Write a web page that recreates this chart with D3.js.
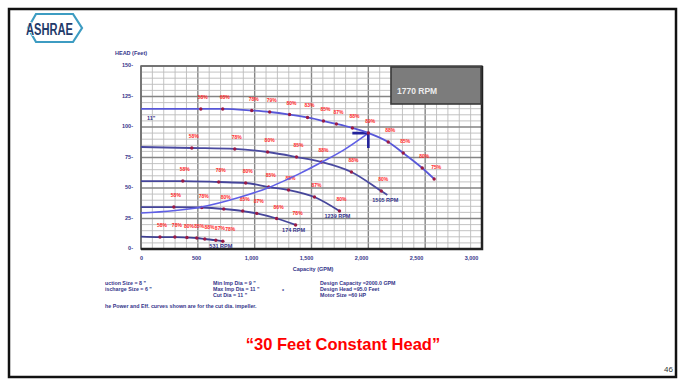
<!DOCTYPE html>
<html>
<head>
<meta charset="utf-8">
<script src="https://cdn.jsdelivr.net/npm/d3@7"></script>
<style>
  body { margin: 0; background: #fff; }
  svg { display: block; font-family: "Liberation Sans", Arial, sans-serif; }
</style>
</head>
<body>
<svg id="chart" width="683" height="382"></svg>
<script>
const xTicks = [0, 500, 1000, 1500, 2000, 2500, 3000];
const xTickLabels = ["0", "500", "1,000", "1,500", "2,000", "2,500", "3,000"];
const yTicks = [0, 25, 50, 75, 100, 125, 150];
const yTickLabels = ["0-", "25-", "50-", "75-", "100-", "125-", "150-"];

// [GPM, altura (ft), eficiencia]
const curve1770 = [
    [0, 114.8, null], [526, 114.8, "58%"], [719, 114.8, "68%"], [974, 113.5, "78%"],
    [1132, 112.3, "79%"], [1307, 110.2, "80%"], [1465, 107.8, "83%"], [1605, 104.9, "85%"],
    [1719, 102.5, "87%"], [1860, 99.2, "88%"], [2000, 95.1, "89%"], [2175, 87.7, "88%"],
    [2307, 78.7, "85%"], [2474, 66.4, "80%"], [2579, 57.4, "75%"]
];
const curve1505 = [
    [0, 83.6, null], [447, 82.8, "58%"], [825, 82.0, "78%"], [1114, 79.5, "80%"],
    [1368, 75.4, "85%"], [1588, 71.3, "88%"], [1851, 63.1, "88%"], [2114, 47.5, "80%"],
    [2167, 44.3, null]
];
const curve1239 = [
    [0, 55.7, null], [368, 55.7, "58%"], [684, 54.9, "78%"], [921, 54.1, "80%"],
    [1123, 50.8, "85%"], [1298, 48.4, "88%"], [1526, 42.6, "87%"], [1746, 31.1, "80%"]
];
const curve974 = [
    [0, 34.4, null], [289, 34.4, "58%"], [535, 34.0, "78%"], [728, 32.8, "80%"],
    [895, 31.1, "85%"], [1018, 29.2, "87%"], [1193, 25.0, "86%"], [1360, 19.7, "78%"]
];
const curve531 = [
    [0, 10.2, null], [167, 9.8, "58%"], [298, 9.8, "78%"], [404, 9.4, "80%"],
    [491, 9.0, "85%"], [561, 8.2, "88%"], [658, 7.2, "87%"], [720, 6.4, "78%"]
];
const systemCurve = [
    [0, 29.5], [518, 34.2], [868, 42.4], [1132, 50.7], [1281, 56.8],
    [1395, 61.8], [1588, 71.1], [1789, 81.5], [2000, 95]
];
const speedLabels = ["1505 RPM", "1239 RPM", "174 RPM", "531 RPM"];

const infoCol1 = ["uction Size = 8 \"", "ischarge Size = 6 \""];
const infoCol2 = ["Min Imp Dia = 9 \"", "Max Imp Dia = 11 \"", "Cut Dia = 11 \""];
const infoCol3 = ["Design Capacity =2000.0 GPM", "Design Head =95.0 Feet", "Motor Size =60 HP"];
const noteLine = "he Power and Eff. curves shown are for the cut dia. impeller.";

const navy = "#34348a";
const svg = d3.select("#chart");

// Escalas: la rejilla y las etiquetas del eje X no coinciden en la imagen
const x = d3.scaleLinear().domain([0, 3000]).range([141, 482]);
const xLabel = d3.scaleLinear().domain([0, 3000]).range([141, 471]);
const y = d3.scaleLinear().domain([0, 150]).range([249, 66]);

function drawSlide() {
    svg.append("rect")
        .attr("x", 9).attr("y", 9).attr("width", 667).attr("height", 368)
        .attr("fill", "#fff").attr("stroke", "#111").attr("stroke-width", 2.5);

    // Logo ASHRAE
    svg.append("path")
        .attr("d", "M36,14 L73,14 L82,28 L73,42 L36,42 L28,28 Z")
        .attr("fill", "none").attr("stroke", "#3d9cc2").attr("stroke-width", 2.2);
    svg.append("text")
        .attr("x", 26).attr("y", 35)
        .attr("textLength", 47).attr("lengthAdjust", "spacingAndGlyphs")
        .attr("font-size", 16).attr("font-weight", "bold")
        .attr("fill", "#1f3b6b")
        .attr("stroke", "#fff").attr("stroke-width", 1.5).attr("paint-order", "stroke")
        .text("ASHRAE");

    svg.append("text")
        .attr("x", 343).attr("y", 350)
        .attr("text-anchor", "middle")
        .attr("font-size", 16.5).attr("font-weight", "bold")
        .attr("fill", "#ff0000")
        .text("\u201C30 Feet Constant Head\u201D");

    svg.append("text")
        .attr("x", 673).attr("y", 372)
        .attr("text-anchor", "end")
        .attr("font-size", 8).attr("fill", "#333")
        .text("46");
}

function drawGrid() {
    const g = svg.append("g");
    g.append("rect")
        .attr("x", x(0)).attr("y", y(150))
        .attr("width", x(3000) - x(0)).attr("height", y(0) - y(150))
        .attr("fill", "#fff");

    g.selectAll("line.v")
        .data(d3.range(0, 3001, 100))
        .enter().append("line")
        .attr("x1", d => x(d)).attr("x2", d => x(d))
        .attr("y1", y(150)).attr("y2", y(0))
        .attr("stroke", d => d % 500 === 0 ? "#858585" : "#bcbcbc")
        .attr("stroke-width", d => d % 500 === 0 ? 1.4 : 0.9);

    g.selectAll("line.h")
        .data(d3.range(0, 151, 5))
        .enter().append("line")
        .attr("y1", d => y(d)).attr("y2", d => y(d))
        .attr("x1", x(0)).attr("x2", x(3000))
        .attr("stroke", d => d % 25 === 0 ? "#858585" : "#bcbcbc")
        .attr("stroke-width", d => d % 25 === 0 ? 1.4 : 0.9);

    // Marco
    g.append("rect")
        .attr("x", x(0)).attr("y", y(150))
        .attr("width", x(3000) - x(0)).attr("height", y(0) - y(150))
        .attr("fill", "none").attr("stroke", "#666").attr("stroke-width", 1.5);
    g.append("path")
        .attr("d", `M${x(3000)},${y(150)} L${x(3000)},${y(0)} L${x(0)},${y(0)}`)
        .attr("fill", "none").attr("stroke", "#222").attr("stroke-width", 2.5);
}

function drawAxes() {
    const xAxis = svg.append("g")
        .attr("transform", `translate(0,${y(0) + 4})`)
        .call(d3.axisBottom(xLabel).tickValues(xTicks)
            .tickFormat((d, i) => xTickLabels[i]).tickSize(0));
    const yAxis = svg.append("g")
        .attr("transform", `translate(${x(0) - 8},-1)`)
        .call(d3.axisLeft(y).tickValues(yTicks)
            .tickFormat((d, i) => yTickLabels[i]).tickSize(0).tickPadding(0));

    [xAxis, yAxis].forEach(a => {
        a.select(".domain").remove();
        a.selectAll("text")
            .attr("font-size", 5.5).attr("font-weight", "bold")
            .attr("font-family", "Liberation Sans, Arial, sans-serif")
            .attr("fill", navy);
    });

    svg.append("text")
        .attr("x", 115).attr("y", 55)
        .attr("font-size", 5.5).attr("font-weight", "bold").attr("fill", navy)
        .text("HEAD (Feet)");
    svg.append("text")
        .attr("x", 313).attr("y", 271)
        .attr("text-anchor", "middle")
        .attr("font-size", 5.5).attr("font-weight", "bold").attr("fill", navy)
        .text("Capacity (GPM)");
    svg.append("text")
        .attr("x", 147).attr("y", 120)
        .attr("font-size", 5.5).attr("font-weight", "bold").attr("fill", navy)
        .text("11\"");
}

const line = d3.line()
    .x(d => x(d[0]))
    .y(d => y(d[1]))
    .curve(d3.curveMonotoneX);

function drawPumpCurve(data, color, label) {
    svg.append("path")
        .datum(data)
        .attr("d", line)
        .attr("fill", "none")
        .attr("stroke", color)
        .attr("stroke-width", 1.8);

    const pts = data.filter(d => d[2]);
    svg.append("g").selectAll("circle")
        .data(pts)
        .enter().append("circle")
        .attr("cx", d => x(d[0])).attr("cy", d => y(d[1]))
        .attr("r", 1.7)
        .attr("fill", "#9a1a45");

    const labels = svg.append("g").selectAll("text")
        .data(pts)
        .enter().append("text")
        .attr("x", d => x(d[0]) + 2).attr("y", d => y(d[1]) - 10)
        .attr("text-anchor", "middle")
        .attr("font-size", 5).attr("font-weight", "bold")
        .attr("fill", "#ff2a2a")
        .text(d => d[2]);

    // Empujar etiquetas a la derecha si se pisan (curvas de baja velocidad)
    let prevRight = -Infinity, prevY = null;
    labels.each(function() {
        const el = d3.select(this);
        const w = this.getComputedTextLength();
        let cx = +el.attr("x");
        const cy = +el.attr("y");
        if (prevY !== null && Math.abs(cy - prevY) < 6 && cx - w / 2 < prevRight + 0.3) {
            cx = prevRight + 0.3 + w / 2;
            el.attr("x", cx);
        }
        prevRight = cx + w / 2;
        prevY = cy;
    });

    if (label) {
        const end = data[data.length - 1];
        svg.append("text")
            .attr("x", x(end[0]) - 2).attr("y", y(end[1]) + 7)
            .attr("text-anchor", "middle")
            .attr("font-size", 5.5).attr("font-weight", "bold")
            .attr("fill", navy)
            .text(label);
    }
}

function drawSystemCurve() {
    svg.append("path")
        .datum(systemCurve)
        .attr("d", line)
        .attr("fill", "none")
        .attr("stroke", "#5f5fe6")
        .attr("stroke-width", 1.6);

    // Punta de flecha en el punto de diseño
    const tip = systemCurve[systemCurve.length - 1];
    const tx = x(tip[0]), ty = y(tip[1]);
    svg.append("path")
        .attr("d", `M${tx - 16},${ty} L${tx},${ty} L${tx},${ty + 15}`)
        .attr("fill", "none")
        .attr("stroke", "#22229a")
        .attr("stroke-width", 2.6);
}

function drawSpeedBox() {
    svg.append("rect")
        .attr("x", 391).attr("y", 67).attr("width", 90).attr("height", 37)
        .attr("fill", "#7c7c7c").attr("stroke", "#3a3a3a").attr("stroke-width", 1.6);
    svg.append("text")
        .attr("x", 397).attr("y", 94)
        .attr("font-size", 8.5).attr("font-weight", "bold")
        .attr("fill", "#ececec")
        .text("1770 RPM");
}

function drawInfo() {
    const g = svg.append("g")
        .attr("font-size", 5.3).attr("font-weight", "bold").attr("fill", navy);
    const rows = [285, 291, 297];
    [[infoCol1, 105], [infoCol2, 213], [infoCol3, 320]].forEach(([col, cx]) => {
        col.forEach((t, i) => {
            g.append("text").attr("x", cx).attr("y", rows[i]).text(t);
        });
    });
    g.append("text").attr("x", 282).attr("y", 293).text("*");
    g.append("text").attr("x", 105).attr("y", 308).text(noteLine);
}

drawSlide();
drawGrid();
drawAxes();
drawPumpCurve(curve531, "#3f3f90", speedLabels[3]);
drawPumpCurve(curve974, "#45459a", speedLabels[2]);
drawPumpCurve(curve1239, "#45459a", speedLabels[1]);
drawPumpCurve(curve1505, "#4a4aa0", speedLabels[0]);
drawSystemCurve();
drawPumpCurve(curve1770, "#5858d8", null);
drawSpeedBox();
drawInfo();
</script>
</body>
</html>
